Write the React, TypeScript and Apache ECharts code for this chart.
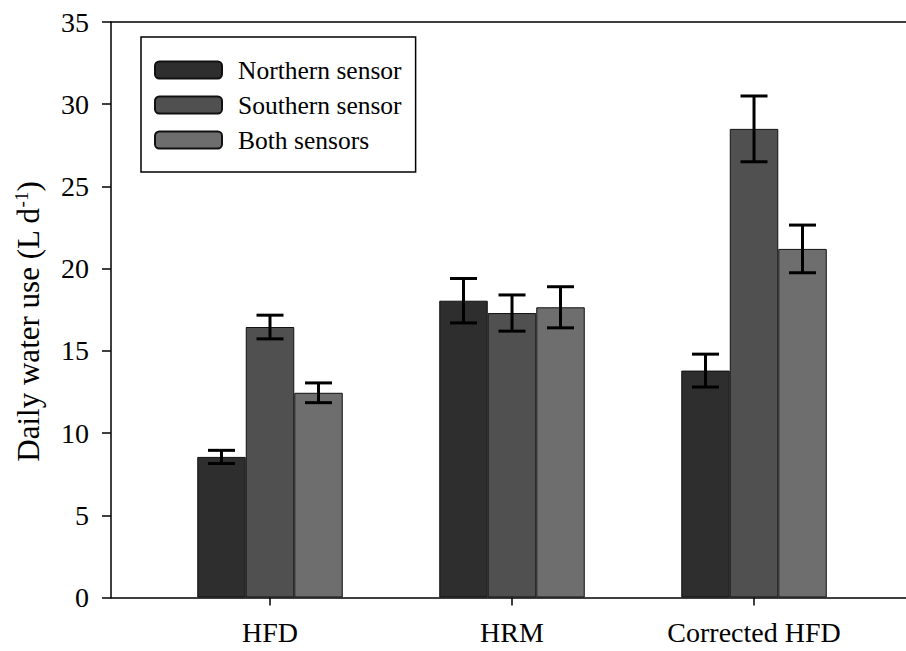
import React, { useEffect, useRef } from "react";
import * as echarts from "echarts";

const categories = ["HFD", "HRM", "Corrected HFD"];
const categoryPositions = [1, 2, 3];
const seriesNames = ["Northern sensor", "Southern sensor", "Both sensors"];
const northern = [8.55, 18.05, 13.8];
const northernErr = [0.4, 1.35, 1.0];
const southern = [16.45, 17.3, 28.5];
const southernErr = [0.72, 1.1, 2.0];
const both = [12.45, 17.65, 21.2];
const bothErr = [0.6, 1.25, 1.45];
const yTicks = [0, 5, 10, 15, 20, 25, 30, 35];

const colors = ["#2e2e2e", "#505050", "#6e6e6e"];
const FONT = "'Liberation Serif', 'Times New Roman', serif";
const BAR_W = 48.5;

export default function App() {
  const ref = useRef<HTMLDivElement>(null);
  useEffect(() => {
    document.body.style.margin = "0";
    if (!ref.current) return;
    const chart = echarts.init(ref.current, null, { renderer: "svg" });
    const values = [northern, southern, both];
    const errs = [northernErr, southernErr, bothErr];
    const offsets = [-BAR_W, 0, BAR_W];

    const barSeries = seriesNames.map((name, i) => ({
      name,
      type: "bar",
      barWidth: BAR_W,
      barGap: "0%",
      xAxisIndex: 0,
      yAxisIndex: 0,
      itemStyle: { color: colors[i], borderColor: "#111", borderWidth: 1 },
      data: categoryPositions.map((x, k) => [x, values[i][k]]),
      z: 2,
    }));

    const errSeries = seriesNames.map((name, i) => ({
      name: name + " error",
      type: "custom",
      xAxisIndex: 0,
      yAxisIndex: 0,
      z: 5,
      encode: { x: 0, y: 1 },
      data: categoryPositions.map((x, k) => [x, values[i][k], errs[i][k]]),
      renderItem: (params: any, api: any) => {
        const x = api.value(0);
        const y = api.value(1);
        const e = api.value(2);
        const top = api.coord([x, y + e]);
        const bot = api.coord([x, y - e]);
        const cx = top[0] + offsets[i];
        const hw = 13.5;
        const style = { stroke: "#000", lineWidth: 3 };
        return {
          type: "group",
          children: [
            { type: "line", shape: { x1: cx, y1: top[1], x2: cx, y2: bot[1] }, style },
            { type: "line", shape: { x1: cx - hw, y1: top[1], x2: cx + hw, y2: top[1] }, style },
            { type: "line", shape: { x1: cx - hw, y1: bot[1], x2: cx + hw, y2: bot[1] }, style },
          ],
        };
      },
    }));

    const xMin = 0.343;
    const xMax = 3.628;

    chart.setOption({
      animation: false,
      backgroundColor: "#fff",
      grid: { left: 111, right: 0, top: 22, bottom: 53.5 },
      legend: {
        data: seriesNames,
        orient: "vertical",
        left: 141,
        top: 37,
        padding: [20, 14, 19, 13],
        itemWidth: 67,
        itemHeight: 17,
        itemGap: 9,
        borderColor: "#000",
        borderWidth: 1.5,
        textStyle: { fontFamily: FONT, fontSize: 25.5, color: "#000", padding: [0, 0, 0, 11] },
      },
      xAxis: [
        {
          type: "value",
          min: xMin,
          max: xMax,
          position: "bottom",
          splitLine: { show: false },
          axisLine: { show: true, lineStyle: { color: "#000", width: 1.5 } },
          axisTick: {
            show: true,
            customValues: categoryPositions,
            inside: false,
            length: 8,
            lineStyle: { color: "#000", width: 1.5 },
          },
          axisLabel: {
            customValues: categoryPositions,
            formatter: (v: number) => categories[categoryPositions.indexOf(Math.round(v))] ?? "",
            fontFamily: FONT,
            fontSize: 28,
            color: "#000",
            margin: 21,
          },
        },
        {
          type: "value",
          min: xMin,
          max: xMax,
          position: "top",
          splitLine: { show: false },
          axisLine: { show: true, lineStyle: { color: "#000", width: 1.5 } },
          axisTick: { show: false },
          axisLabel: { show: false },
        },
      ],
      yAxis: {
        type: "value",
        min: 0,
        max: 35,
        interval: 5,
        splitLine: { show: false },
        axisLine: { show: true, lineStyle: { color: "#000", width: 1.5 } },
        axisTick: { show: true, length: 9, lineStyle: { color: "#000", width: 1.5 } },
        axisLabel: {
          fontFamily: FONT,
          fontSize: 28,
          color: "#000",
          margin: 22,
          customValues: yTicks,
        },
        name: "{a|Daily water use (L d}{s|-1}{a|)}",
        nameLocation: "middle",
        nameRotate: 90,
        nameGap: 66,
        nameTextStyle: {
          padding: [0, 24, 0, 0],
          rich: {
            a: { fontFamily: FONT, fontSize: 31, color: "#000" },
            s: { fontFamily: FONT, fontSize: 19, color: "#000", verticalAlign: "top", padding: [0, 0, 14, 0] },
          },
        },
      },
      series: [...barSeries, ...errSeries],
    });
    return () => chart.dispose();
  }, []);
  return <div ref={ref} style={{ width: 906, height: 651 }} />;
}
